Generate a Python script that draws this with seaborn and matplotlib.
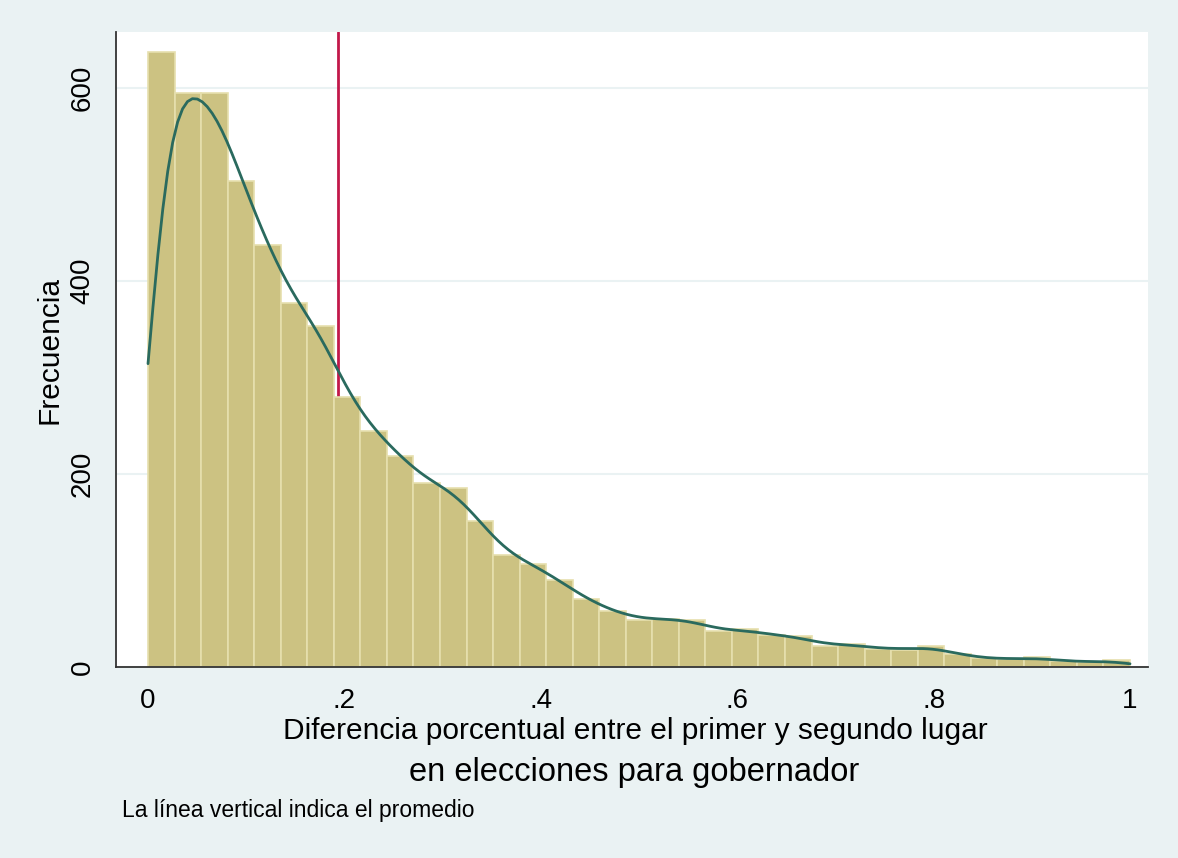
import numpy as np
import pandas as pd
import matplotlib
matplotlib.use('Agg')
import matplotlib.pyplot as plt
import seaborn as sns

# Frecuencias por intervalo (37 intervalos entre 0 y 1)
n_bins = 37
frecuencias = [637, 595, 595, 504, 437, 377, 353, 280, 245, 219,
               191, 186, 151, 116, 107, 90, 70, 58, 49, 50,
               49, 37, 39, 33, 32, 22, 24, 19, 18, 22,
               13, 9, 8, 10, 6, 5, 7]
promedio = 0.193
x_ticks = [0, 0.2, 0.4, 0.6, 0.8, 1]
x_tick_labels = ['0', '.2', '.4', '.6', '.8', '1']
y_ticks = [0, 200, 400, 600]

bordes = np.linspace(0, 1, n_bins + 1)
centros = (bordes[:-1] + bordes[1:]) / 2
df = pd.DataFrame({'diferencia': centros, 'frecuencia': frecuencias})

fondo = '#EAF2F3'
color_barra = '#CCC282'
color_kde = '#2A6A5E'
color_media = '#C2184A'

sns.set_style('white')
plt.rcParams['font.family'] = ['Liberation Sans', 'DejaVu Sans']
plt.rcParams['text.color'] = 'black'
plt.rcParams['axes.labelcolor'] = 'black'

fig = plt.figure(figsize=(11.78, 8.58), dpi=100, facecolor=fondo)
ax = fig.add_axes([116 / 1178, 1 - 667 / 858, (1148 - 116) / 1178, (667 - 32) / 858])
ax.set_facecolor('white')

# histograma + densidad kernel (escalada a frecuencias)
sns.histplot(data=df, x='diferencia', weights='frecuencia', bins=n_bins, binrange=(0, 1),
             color=color_barra, edgecolor='#E6DFAE', linewidth=1.2, alpha=1,
             kde=True, kde_kws={'bw_method': 0.12, 'cut': 0.385}, ax=ax)
ax.lines[0].set_color(color_kde)
ax.lines[0].set_linewidth(2)

# línea del promedio (queda detrás de las barras)
ax.axvline(promedio, color=color_media, linewidth=2, zorder=0.8)

ax.set_xlim(-0.0326, 1.0183)
ax.set_ylim(0, 658)
ax.set_xticks(x_ticks)
ax.set_xticklabels(x_tick_labels)
ax.set_yticks(y_ticks)
ax.set_yticklabels([str(v) for v in y_ticks], rotation=90, va='center')
ax.tick_params(axis='both', length=8, width=1.3, color='#333333', labelsize=20,
               labelcolor='black', direction='out')
ax.tick_params(axis='x', pad=7)
ax.tick_params(axis='y', pad=6.5)
ax.yaxis.grid(True, color=fondo, linewidth=1.5)
ax.xaxis.grid(False)
ax.set_axisbelow(True)

for lado in ['top', 'right']:
    ax.spines[lado].set_visible(False)
for lado in ['left', 'bottom']:
    ax.spines[lado].set_color('#333333')
    ax.spines[lado].set_linewidth(1.3)

ax.set_ylabel('Frecuencia', fontsize=21.5, labelpad=4.5, color='black')
ax.set_xlabel('')

fig.text(635 / 1178, 1 - 731 / 858, 'Diferencia porcentual entre el primer y segundo lugar',
         ha='center', va='center', fontsize=21.5, color='black')
fig.text(634 / 1178, 1 - 772 / 858, 'en elecciones para gobernador',
         ha='center', va='center', fontsize=23.5, color='black')
fig.text(122 / 1178, 1 - 810 / 858, 'La línea vertical indica el promedio',
         ha='left', va='center', fontsize=16.5, color='black')

fig.savefig('out.png', dpi=100, facecolor=fondo)
